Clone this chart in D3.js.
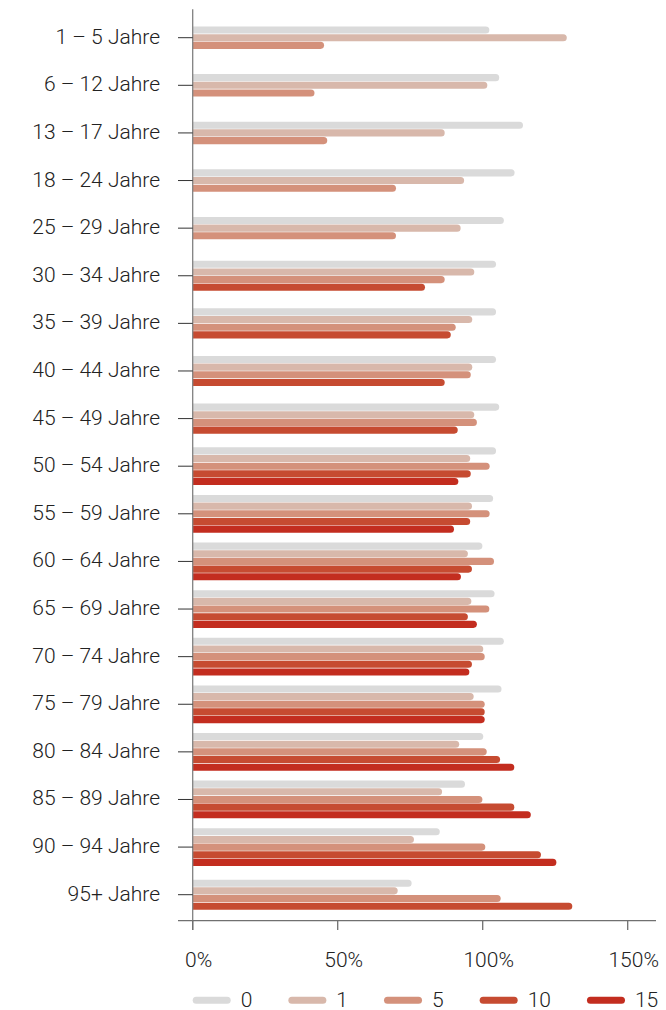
<!DOCTYPE html>
<html>
<head>
<meta charset="utf-8">
<script src="https://cdn.jsdelivr.net/npm/d3@7"></script>
<style>
  html, body { margin: 0; padding: 0; background: #fff; }
  svg text { font-family: Roboto, "Liberation Sans", sans-serif; font-weight: 300; fill: #222; }
</style>
</head>
<body>
<svg id="chart" width="666" height="1010"></svg>
<script>
const categories = ["1 – 5 Jahre","6 – 12 Jahre","13 – 17 Jahre","18 – 24 Jahre","25 – 29 Jahre",
  "30 – 34 Jahre","35 – 39 Jahre","40 – 44 Jahre","45 – 49 Jahre","50 – 54 Jahre","55 – 59 Jahre",
  "60 – 64 Jahre","65 – 69 Jahre","70 – 74 Jahre","75 – 79 Jahre","80 – 84 Jahre","85 – 89 Jahre",
  "90 – 94 Jahre","95+ Jahre"];
const seriesNames = ["0","1","5","10","15"];
const seriesColors = ["#dadada","#d8b8ab","#d4917b","#c64b31","#c32d1f"];
const values0  = [102.3,105.7,113.9,111.0,107.3,104.6,104.6,104.6,105.7,104.6,103.6,99.9,104.1,107.3,106.5,100.2,93.9,85.2,75.5];
const values1  = [129.0,101.6,86.9,93.6,92.4,97.1,96.4,96.4,97.1,95.7,96.3,94.9,96.1,100.2,96.9,91.9,86.0,76.3,70.7];
const values5  = [45.3,42.0,46.4,70.1,70.1,86.9,90.7,95.9,98.0,102.4,102.4,103.9,102.3,100.7,100.7,101.4,99.9,100.9,106.2];
const values10 = [null,null,null,null,null,80.1,89.0,86.9,91.4,95.9,95.7,96.3,94.9,96.3,100.7,106.0,110.9,120.1,130.9];
const values15 = [null,null,null,null,null,null,null,null,null,91.6,90.1,92.5,98.0,95.4,100.7,110.9,116.6,125.4,null];
const xTicks = [0, 50, 100, 150];
const xTickLabels = ["0%","50%","100%","150%"];

const seriesValues = [values0, values1, values5, values10, values15];

const svg = d3.select("#chart");
const x = d3.scaleLinear().domain([0, 150]).range([192.7, 627.7]);
const y = d3.scalePoint().domain(categories).range([37.7, 894.7]);
const slot = 7.66, barH = 7.1;
const fs = 21;

// bars
const rows = categories.map((c, i) => {
  const items = [];
  seriesValues.forEach((vals, s) => { if (vals[i] != null) items.push({ s, v: vals[i] }); });
  return { c, items };
});

function barPath(x0, x1, y0, h) {
  const r = h / 2;
  return `M${x0},${y0}H${x1 - r}A${r},${r} 0 0 1 ${x1 - r},${y0 + h}H${x0}Z`;
}

const gBars = svg.append("g");
rows.forEach(row => {
  const n = row.items.length;
  const top = y(row.c) - n * slot / 2;
  row.items.forEach((it, k) => {
    const y0 = top + k * slot + (slot - barH) / 2;
    gBars.append("path")
      .attr("d", barPath(x(0), x(it.v), y0, barH))
      .attr("fill", seriesColors[it.s]);
  });
});

// y axis
svg.append("line").attr("x1", x(0)).attr("x2", x(0)).attr("y1", 9.3).attr("y2", 930)
  .attr("stroke", "#808080").attr("stroke-width", 1.3);
const gy = svg.append("g");
categories.forEach(c => {
  gy.append("line").attr("x1", 178).attr("x2", x(0)).attr("y1", y(c)).attr("y2", y(c))
    .attr("stroke", "#333").attr("stroke-width", 1);
  gy.append("text").attr("x", 160).attr("y", y(c) + 6).attr("text-anchor", "end")
    .attr("font-size", fs).text(c);
});

// x axis
svg.append("line").attr("x1", 178).attr("x2", 656).attr("y1", 920.7).attr("y2", 920.7)
  .attr("stroke", "#707070").attr("stroke-width", 1.3);
const gx = svg.append("g");
xTicks.forEach((t, i) => {
  gx.append("line").attr("x1", x(t)).attr("x2", x(t)).attr("y1", 920.7).attr("y2", 930)
    .attr("stroke", "#707070").attr("stroke-width", 1.3);
  gx.append("text").attr("x", x(t) + 6).attr("y", 967.3).attr("text-anchor", "middle")
    .attr("font-size", fs).text(xTickLabels[i]);
});

// legend
const gl = svg.append("g");
let lx = 192.7;
seriesNames.forEach((nm, i) => {
  gl.append("rect").attr("x", lx).attr("y", 996.8).attr("width", 38).attr("height", 7)
    .attr("rx", 3.5).attr("fill", seriesColors[i]);
  const t = gl.append("text").attr("x", lx + 48).attr("y", 1006.5).attr("font-size", fs).text(nm);
  lx += 48 + t.node().getComputedTextLength() + 36;
});
</script>
</body>
</html>
